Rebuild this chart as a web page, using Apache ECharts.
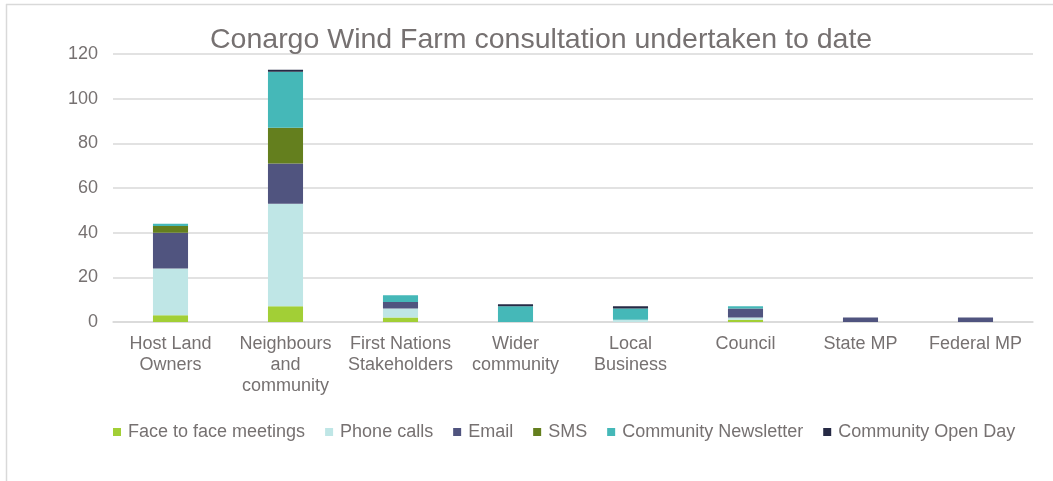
<!DOCTYPE html>
<html><head><meta charset="utf-8">
<script src="https://cdn.jsdelivr.net/npm/echarts@6/dist/echarts.min.js"></script>
<style>html,body{margin:0;padding:0;background:#fff}#c{width:1053px;height:481px}</style>
</head><body><div id="c"></div>
<script>
const categories = ['Host Land\nOwners','Neighbours\nand\ncommunity','First Nations\nStakeholders','Wider\ncommunity','Local\nBusiness','Council','State MP','Federal MP'];
const seriesNames = ['Face to face meetings','Phone calls','Email','SMS','Community Newsletter','Community Open Day'];
const faceToFace = [3, 7, 2, 0, 0, 1, 0, 0];
const phoneCalls = [21, 46, 4, 0, 1, 1, 0, 0];
const email = [16, 18, 3, 0, 0, 4, 2, 2];
const sms = [3, 16, 0, 0, 0, 0, 0, 0];
const newsletter = [1, 25, 3, 7, 5, 1, 0, 0];
const openDay = [0, 1, 0, 1, 1, 0, 0, 0];
const yTicks = [0, 20, 40, 60, 80, 100, 120];
const colors = ['#a2cf36','#bfe6e6','#50547f','#647f1e','#45b8b8','#262a45'];
const values = [faceToFace, phoneCalls, email, sms, newsletter, openDay];

const chart = echarts.init(document.getElementById('c'));
chart.setOption({
  animation: false,
  title: {
    text: 'Conargo Wind Farm consultation undertaken to date',
    left: 205, top: 21,
    textStyle: {fontFamily: 'Liberation Sans, Arial', fontSize: 28.5, fontWeight: 'normal', color: '#767171'}
  },
  graphic: [
    {type: 'line', shape: {x1: 6, y1: 4.5, x2: 1053, y2: 4.5}, style: {stroke: '#d9d9d9', lineWidth: 1.5}},
    {type: 'line', shape: {x1: 6.5, y1: 4, x2: 6.5, y2: 481}, style: {stroke: '#d9d9d9', lineWidth: 1.5}}
  ],
  legend: {
    data: seriesNames, top: 418, left: 108,
    icon: 'rect', itemWidth: 8, itemHeight: 8, itemGap: 20,
    textStyle: {fontFamily: 'Liberation Sans, Arial', fontSize: 18, color: '#767171', padding: [0,0,0,2]}
  },
  grid: {left: 113, right: 20, top: 54, bottom: 159},
  xAxis: {
    type: 'category', data: categories,
    axisLine: {lineStyle: {color: '#d9d9d9', width: 1.5}},
    axisTick: {show: false},
    axisLabel: {fontFamily: 'Liberation Sans, Arial', fontSize: 18, color: '#767171', lineHeight: 21, margin: 12, interval: 0}
  },
  yAxis: {
    type: 'value', min: 0, max: 120, interval: 20,
    axisLine: {show: false}, axisTick: {show: false},
    splitLine: {lineStyle: {color: '#d9d9d9', width: 1.5}},
    axisLabel: {fontFamily: 'Liberation Sans, Arial', fontSize: 18, color: '#767171', margin: 15,
      formatter: v => yTicks.includes(v) ? String(v) : ''}
  },
  series: seriesNames.map((n, i) => ({
    name: n, type: 'bar', stack: 'total', data: values[i],
    barWidth: '30.5%', itemStyle: {color: colors[i]}
  }))
});
</script></body></html>
